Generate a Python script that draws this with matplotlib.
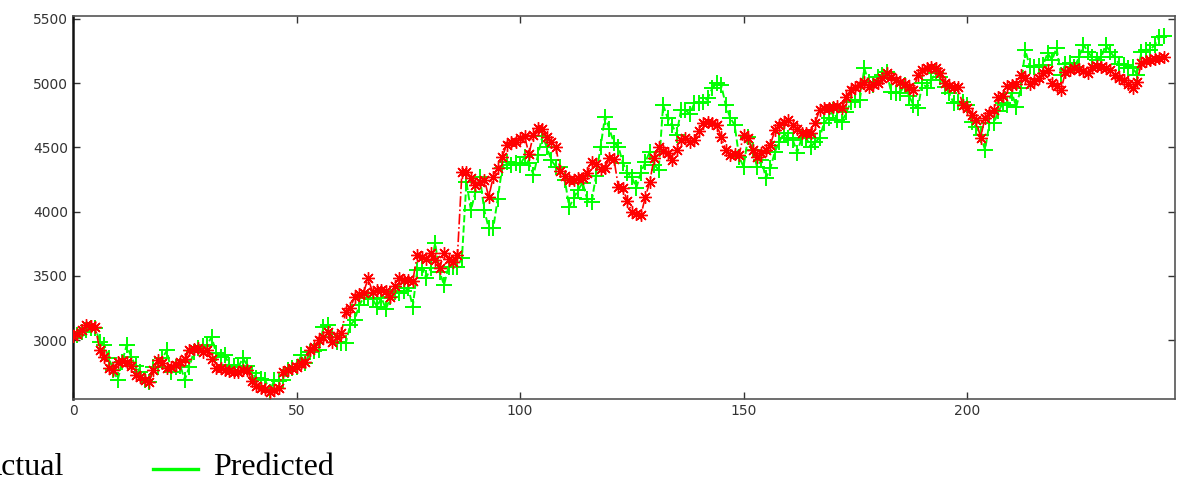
import matplotlib
matplotlib.use("Agg")
import matplotlib.pyplot as plt
from matplotlib.lines import Line2D
import numpy as np

actual = [
    3030, 3050, 3080, 3115, 3110, 3100, 2920, 2870, 2780, 2770,
    2830, 2835, 2830, 2800, 2730, 2710, 2690, 2670, 2770, 2845,
    2820, 2785, 2790, 2805, 2830, 2850, 2920, 2930, 2940, 2910,
    2920, 2850, 2785, 2780, 2770, 2760, 2750, 2750, 2770, 2770,
    2680, 2640, 2630, 2620, 2595, 2610, 2630, 2750, 2770, 2785,
    2790, 2820, 2830, 2920, 2945, 3000, 3020, 3060, 2985, 3025,
    3055, 3220, 3250, 3335, 3360, 3370, 3480, 3375, 3390, 3390,
    3380, 3335, 3420, 3480, 3470, 3470, 3460, 3660, 3645, 3630,
    3675, 3620, 3560, 3675, 3630, 3605, 3660, 4310, 4305, 4265,
    4210, 4230, 4250, 4115, 4270, 4340, 4425, 4520, 4540, 4545,
    4570, 4585, 4450, 4600, 4650, 4640, 4580, 4540, 4500, 4320,
    4280, 4250, 4245, 4260, 4265, 4300, 4385, 4370, 4330, 4340,
    4420, 4410, 4190, 4180, 4080, 4000, 3980, 3970, 4110, 4230,
    4420, 4500, 4470, 4460, 4400, 4480, 4560, 4575, 4540, 4560,
    4630, 4690, 4700, 4690, 4675, 4580, 4480, 4440, 4445, 4440,
    4600, 4575, 4480, 4425, 4455, 4480, 4520, 4635, 4675, 4700,
    4715, 4675, 4640, 4615, 4610, 4615, 4690, 4790, 4805, 4810,
    4815, 4820, 4805, 4890, 4950, 4970, 4985, 5010, 4970, 4990,
    5000, 5040, 5080, 5050, 5025, 5010, 4990, 4970, 4950, 5065,
    5100, 5115, 5125, 5120, 5080, 5005, 4975, 4970, 4970, 4830,
    4805, 4750, 4715, 4575, 4730, 4765, 4790, 4890, 4900, 4975,
    4985, 4990, 5060, 5040, 4990, 5020, 5040, 5080, 5100, 5000,
    4980, 4950, 5085, 5100, 5120, 5110, 5095, 5080, 5125, 5130,
    5125, 5120, 5105, 5060, 5040, 5025, 4990, 4965, 5010, 5160,
    5170, 5180, 5185, 5195, 5200,
]

predicted = [
    3015, 3040, 3060, 3080, 3090, 3095, 2985, 2960, 2860, 2770,
    2690, 2830, 2960, 2870, 2800, 2750, 2690, 2675, 2790, 2790,
    2860, 2920, 2750, 2790, 2800, 2690, 2790, 2905, 2940, 2950,
    2960, 3025, 2900, 2870, 2880, 2805, 2800, 2790, 2860, 2800,
    2745, 2705, 2700, 2690, 2595, 2690, 2680, 2690, 2765, 2780,
    2790, 2880, 2820, 2905, 2915, 2925, 3100, 3115, 3025, 2985,
    2980, 2975, 3115, 3155, 3270, 3330, 3330, 3320, 3260, 3330,
    3240, 3335, 3375, 3365, 3380, 3405, 3260, 3545, 3560, 3485,
    3560, 3755, 3530, 3430, 3570, 3570, 3570, 3640, 4230, 4010,
    4150, 4270, 4010, 3870, 3870, 4100, 4340, 4390, 4365, 4380,
    4365, 4425, 4380, 4285, 4440, 4590, 4500, 4400, 4350, 4345,
    4250, 4035, 4105, 4170, 4225, 4100, 4075, 4280, 4500, 4740,
    4640, 4535, 4505, 4380, 4300, 4270, 4185, 4300, 4385, 4465,
    4365, 4325, 4830, 4730, 4675, 4600, 4790, 4790, 4760, 4845,
    4845, 4850, 4885, 4960, 5000, 4985, 4830, 4730, 4675, 4425,
    4350, 4580, 4480, 4350, 4400, 4260, 4340, 4465, 4545, 4610,
    4575, 4560, 4460, 4575, 4575, 4505, 4540, 4575, 4690, 4730,
    4790, 4715, 4700, 4775, 4855, 4870, 4870, 5115, 5010, 4985,
    5050, 5060, 5090, 4930, 4925, 4925, 4985, 4900, 4830, 4810,
    5000, 4965, 5025, 5080, 5050, 4970, 4920, 4845, 4850, 4855,
    4830, 4700, 4660, 4600, 4480, 4690, 4690, 4780, 4845, 4830,
    4925, 4815, 4960, 5260, 5130, 5125, 5130, 5140, 5235, 5180,
    5275, 5065, 5150, 5160, 5125, 5200, 5300, 5245, 5200, 5180,
    5200, 5300, 5245, 5200, 5150, 5140, 5120, 5125, 5065, 5245,
    5260, 5260, 5300, 5360, 5365,
]

t = np.arange(len(actual))

W, H = 1182, 478
fig = plt.figure(figsize=(W / 100, H / 100), dpi=100)
ax = fig.add_axes([73 / W, (H - 399) / H, (1175 - 73) / W, (399 - 16) / H])

ax.plot(t, predicted, color=(0, 1, 0), linestyle='--', linewidth=1.4,
        marker='+', markersize=11, markeredgewidth=1.4, zorder=2)
ax.plot(t, actual, color='red', linestyle='-.', linewidth=1.2,
        marker=(8, 2, 0), markersize=9, markeredgewidth=1.0, zorder=3)

ax.set_xlim(0, 246.5)
ax.set_ylim(2541, 5523)
ax.set_xticks([0, 50, 100, 150, 200])
ax.set_yticks([3000, 3500, 4000, 4500, 5000, 5500])
ax.tick_params(direction='in', length=5, top=True, right=True,
               labelsize=10, colors='#333333', width=1)
for s in ax.spines.values():
    s.set_color('#555555')
    s.set_linewidth(1.2)
ax.spines['left'].set_color('#111111')
ax.spines['left'].set_linewidth(1.8)

# legend (bottom, partially cut off on the left as in the source)
serif = ['Liberation Serif', 'DejaVu Serif']
fig.text(-21 / W, 3 / H, 'Actual', family=serif, fontsize=23, va='baseline', ha='left')
fig.add_artist(Line2D([-83 / W, -36 / W], [(H - 469) / H] * 2, color='red', lw=2.2,
                      transform=fig.transFigure))
fig.add_artist(Line2D([153 / W, 198 / W], [(H - 469) / H] * 2, color=(0, 1, 0), lw=2.4,
                      transform=fig.transFigure))
fig.text(213 / W, 3 / H, 'Predicted', family=serif, fontsize=23, va='baseline', ha='left')

fig.savefig('out.png', dpi=100)
